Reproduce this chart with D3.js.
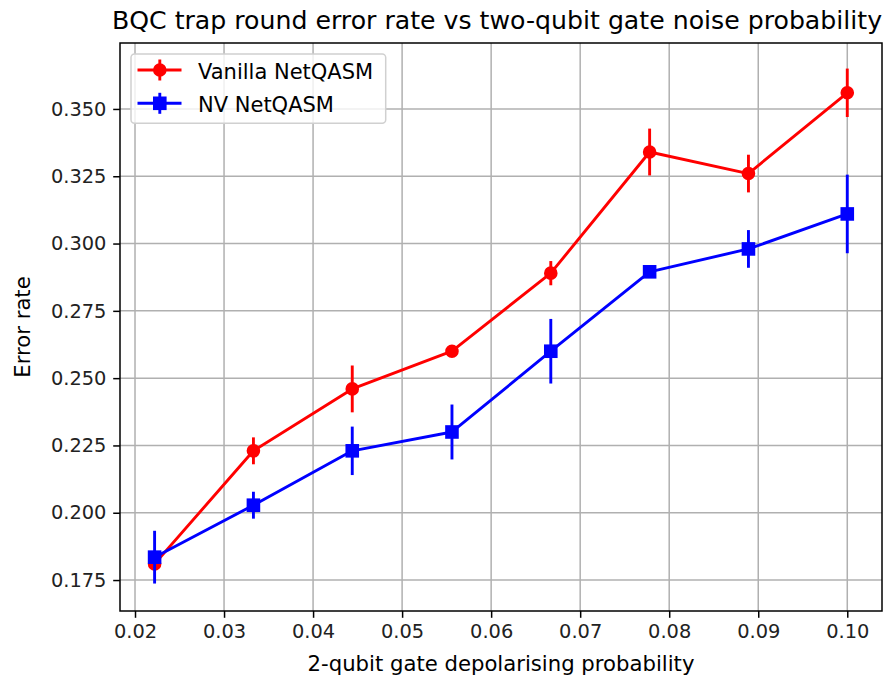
<!DOCTYPE html>
<html>
<head>
<meta charset="utf-8">
<script src="https://cdn.jsdelivr.net/npm/d3@7"></script>
<style>
  html, body { margin: 0; padding: 0; background: #fff; }
  svg { display: block; font-family: "DejaVu Sans", sans-serif; }
</style>
</head>
<body>
<svg id="chart" width="892" height="676"></svg>
<script>
// ---- data ----
const probabilities = [0.0222, 0.0333, 0.0444, 0.0556, 0.0667, 0.0778, 0.0889, 0.1000];
const vanillaRate = [0.181, 0.223, 0.246, 0.260, 0.289, 0.334, 0.326, 0.356];
const vanillaErr  = [0.002, 0.005, 0.0087, 0.002, 0.0045, 0.0087, 0.007, 0.009];
const nvRate      = [0.1835, 0.2028, 0.223, 0.230, 0.260, 0.2895, 0.298, 0.311];
const nvErr       = [0.0098, 0.005, 0.009, 0.0102, 0.012, 0.0012, 0.007, 0.0146];
const xTicks = [0.02, 0.03, 0.04, 0.05, 0.06, 0.07, 0.08, 0.09, 0.10];
const yTicks = [0.175, 0.200, 0.225, 0.250, 0.275, 0.300, 0.325, 0.350];
const seriesNames = ["Vanilla NetQASM", "NV NetQASM"];
const titleText = "BQC trap round error rate vs two-qubit gate noise probability";
const xLabel = "2-qubit gate depolarising probability";
const yLabel = "Error rate";

// ---- layout ----
const L = 120, R = 882, T = 43, B = 611;
const svg = d3.select("#chart");
const x = d3.scaleLinear().domain([0.018314, 0.1039]).range([L, R]);
const y = d3.scaleLinear().domain([0.1635, 0.3745]).range([B, T]);

const fs = 19.4;      // tick labels
const fsLab = 21.2;   // axis labels
const fsLeg = 21;     // legend
const fsTitle = 25.2;
const lw = 2.9;
const ms = 11.7;
const mew = 1.9;

// grid
const g = svg.append("g");
g.selectAll(".gx").data(xTicks).join("line")
  .attr("x1", d => x(d)).attr("x2", d => x(d)).attr("y1", T).attr("y2", B)
  .attr("stroke", "#b0b0b0").attr("stroke-width", 1.5);
g.selectAll(".gy").data(yTicks).join("line")
  .attr("x1", L).attr("x2", R).attr("y1", d => y(d)).attr("y2", d => y(d))
  .attr("stroke", "#b0b0b0").attr("stroke-width", 1.5);

// axes
const xAxis = d3.axisBottom(x).tickValues(xTicks).tickFormat(d3.format(".2f")).tickSizeInner(6.8).tickSizeOuter(0).tickPadding(6.8);
const yAxis = d3.axisLeft(y).tickValues(yTicks).tickFormat(d3.format(".3f")).tickSizeInner(6.8).tickSizeOuter(0).tickPadding(6.8);
const gx = svg.append("g").attr("transform", `translate(0,${B})`).call(xAxis);
const gy = svg.append("g").attr("transform", `translate(${L},0)`).call(yAxis);
[gx, gy].forEach(a => {
  a.select(".domain").remove();
  a.selectAll("line").attr("stroke", "#000").attr("stroke-width", 1.5);
  a.selectAll("text").attr("font-size", fs).attr("fill", "#222").attr("font-family", "DejaVu Sans");
});

// series
const series = [
  {name: seriesNames[0], vals: vanillaRate, errs: vanillaErr, color: "#ff0000", marker: "circle"},
  {name: seriesNames[1], vals: nvRate, errs: nvErr, color: "#0000ff", marker: "square"}
];
const plot = svg.append("g");

function drawMarker(sel, type, color) {
  if (type === "circle") {
    sel.append("circle").attr("r", ms / 2).attr("fill", color).attr("stroke", color).attr("stroke-width", mew);
  } else {
    sel.append("rect").attr("x", -ms / 2).attr("y", -ms / 2).attr("width", ms).attr("height", ms)
      .attr("fill", color).attr("stroke", color).attr("stroke-width", mew);
  }
}

series.forEach(s => {
  const pts = probabilities.map((p, i) => ({p, v: s.vals[i], e: s.errs[i]}));
  const sg = plot.append("g");
  sg.append("path").datum(pts)
    .attr("d", d3.line().x(d => x(d.p)).y(d => y(d.v)))
    .attr("fill", "none").attr("stroke", s.color).attr("stroke-width", lw).attr("stroke-linejoin", "round");
  sg.selectAll(".err").data(pts).join("line")
    .attr("x1", d => x(d.p)).attr("x2", d => x(d.p))
    .attr("y1", d => y(d.v - d.e)).attr("y2", d => y(d.v + d.e))
    .attr("stroke", s.color).attr("stroke-width", lw);
  pts.forEach(d => {
    const m = sg.append("g").attr("transform", `translate(${x(d.p)},${y(d.v)})`);
    drawMarker(m, s.marker, s.color);
  });
});

// spines
svg.append("rect").attr("x", L).attr("y", T).attr("width", R - L).attr("height", B - T)
  .attr("fill", "none").attr("stroke", "#000").attr("stroke-width", 1.5);

// title and labels
svg.append("text").attr("x", 497).attr("y", 28.5).attr("text-anchor", "middle")
  .attr("font-size", fsTitle).attr("fill", "#000").text(titleText);
svg.append("text").attr("x", (L + R) / 2).attr("y", 670.5).attr("text-anchor", "middle")
  .attr("font-size", fsLab).attr("fill", "#000").text(xLabel);
svg.append("text").attr("transform", `translate(29.5,${(T + B) / 2}) rotate(-90)`).attr("text-anchor", "middle")
  .attr("font-size", fsLab).attr("fill", "#000").text(yLabel);

// legend
const lg = svg.append("g");
const lx = 131, ly = 54, lwid = 254.7, lhei = 69.3;
const rowY = [70, 103.3];
const hx0 = 137.5, hx1 = 181.5, textX = 198;
lg.append("rect").attr("x", lx).attr("y", ly).attr("width", lwid).attr("height", lhei)
  .attr("rx", 3.5).attr("ry", 3.5)
  .attr("fill", "#fff").attr("fill-opacity", 0.8).attr("stroke", "#d0d0d0").attr("stroke-width", 1.5);
series.forEach((s, i) => {
  const cy = rowY[i];
  const hc = (hx0 + hx1) / 2 + 0.3;
  lg.append("line").attr("x1", hx0).attr("x2", hx1).attr("y1", cy).attr("y2", cy)
    .attr("stroke", s.color).attr("stroke-width", lw);
  lg.append("line").attr("x1", hc).attr("x2", hc).attr("y1", cy - 10.5).attr("y2", cy + 10.5)
    .attr("stroke", s.color).attr("stroke-width", lw);
  const m = lg.append("g").attr("transform", `translate(${hc},${cy})`);
  drawMarker(m, s.marker, s.color);
  lg.append("text").attr("x", textX).attr("y", cy + 8.6)
    .attr("font-size", fsLeg).attr("fill", "#000").text(s.name);
});
</script>
</body>
</html>
